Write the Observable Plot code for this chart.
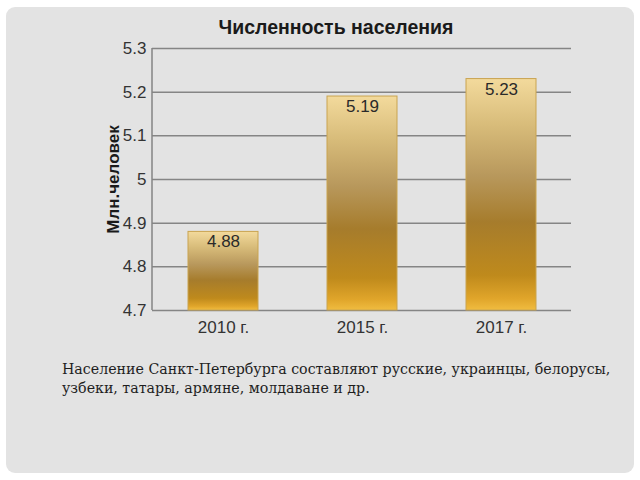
<!DOCTYPE html>
<html>
<head>
<meta charset="utf-8">
<script src="https://cdn.jsdelivr.net/npm/d3@7"></script>
<script src="https://cdn.jsdelivr.net/npm/@observablehq/plot@0.6"></script>
<style>
  html, body { margin: 0; padding: 0; background: #ffffff; width: 640px; height: 480px; overflow: hidden; }
  #panel { position: absolute; left: 6px; top: 7px; width: 628px; height: 466px; border-radius: 9px; background: #e3e3e3; }
  #title { position: absolute; left: 0; width: 672px; top: 16px; text-align: center; font-family: "Liberation Sans", Arial, sans-serif; font-weight: bold; font-size: 19.5px; color: #1a1a1a; }
  #chart { position: absolute; left: 0; top: 0; }
  #caption { position: absolute; left: 62px; top: 360px; width: 570px; font-family: "DejaVu Serif", "Liberation Serif", serif; font-size: 14.2px; line-height: 19px; color: #1e1e1e; }
</style>
</head>
<body>
<div id="panel"></div>
<div id="chart"></div>
<div id="title"></div>
<div id="caption"></div>
<script>
const titleText = "Численность населения";
const yLabel = "Млн.человек";
const captionText = "Население Санкт-Петербурга составляют русские, украинцы, белорусы, узбеки, татары, армяне, молдаване и др.";
const years = ["2010 г.", "2015 г.", "2017 г."];
const population = [4.88, 5.19, 5.23];
const valueLabels = ["4.88", "5.19", "5.23"];
const yTicks = [4.7, 4.8, 4.9, 5.0, 5.1, 5.2, 5.3];
const yTickLabels = ["4.7", "4.8", "4.9", "5", "5.1", "5.2", "5.3"];

const data = years.map((y, i) => ({year: y, value: population[i], label: valueLabels[i]}));

document.getElementById("title").textContent = titleText;
document.getElementById("caption").textContent = captionText;

const gradient = () => {
  const svg = d3.create("svg:g");
  const g = svg.append("defs").append("linearGradient")
    .attr("id", "gold").attr("x1", 0).attr("y1", 0).attr("x2", 0).attr("y2", 1);
  [[0, "#f3da9c"], [0.2, "#d8bc7a"], [0.42, "#b8985c"], [0.62, "#a67c2c"], [0.85, "#bf8a1c"], [0.95, "#e0a52a"], [1, "#f0bc40"]]
    .forEach(([o, c]) => g.append("stop").attr("offset", o).attr("stop-color", c));
  return svg.node();
};

const fmt = d => yTickLabels[yTicks.findIndex(t => Math.abs(t - d) < 1e-9)];

const chart = Plot.plot({
  width: 640,
  height: 340,
  marginTop: 48,
  marginBottom: 30,
  marginLeft: 152,
  marginRight: 69,
  style: {background: "transparent", fontFamily: "Liberation Sans, Arial, sans-serif", fontSize: "17px", color: "#333"},
  x: {domain: years, paddingInner: 0.5, paddingOuter: 0.25, label: null, tickSize: 0, tickPadding: 10},
  y: {domain: [4.7, 5.3], ticks: yTicks, tickFormat: fmt, tickSize: 0, tickPadding: 6, label: yLabel, labelArrow: "none", labelAnchor: "center", labelOffset: 46},
  marks: [
    gradient,
    Plot.ruleY(yTicks, {stroke: "#858585", strokeWidth: 1.5, strokeOpacity: 1}),
    Plot.barY(data, {x: "year", y1: () => 4.7, y2: "value", fill: "url(#gold)", stroke: "#c9a450", strokeWidth: 1}),
    Plot.text(data, {x: "year", y: "value", text: "label", dy: 10, fontSize: 17, fill: "#2a2a2a"})
  ]
});
document.getElementById("chart").appendChild(chart);

const svg = d3.select(chart);
svg.append("line").attr("x1", 152).attr("x2", 152).attr("y1", 48).attr("y2", 310).attr("stroke", "#858585").attr("stroke-width", 1.5);
svg.selectAll("g[aria-label='y-axis label']").style("font-weight", "bold").attr("fill", "#1a1a1a");
svg.selectAll("g[aria-label='y-axis label'] text").text(yLabel);
</script>
</body>
</html>
